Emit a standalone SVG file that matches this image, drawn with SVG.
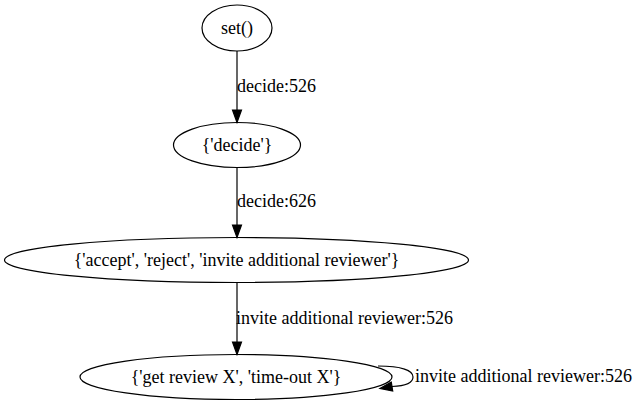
<svg xmlns="http://www.w3.org/2000/svg" width="636" height="407" viewBox="0 0 636 407">
<style>
.node ellipse{fill:none;stroke:#000;stroke-width:1.2}
text{font-family:"Liberation Serif","Times New Roman",serif;font-size:18px;fill:#000}
.node text{text-anchor:middle}
.edge path,.edge line{fill:none;stroke:#000;stroke-width:1.2}
.edge polygon{fill:#000;stroke:#000;stroke-width:1.2}
</style>
<rect width="636" height="407" fill="#fff"/>
<g id="n_set" class="node">
<ellipse cx="237" cy="28" rx="35" ry="23"/>
<text x="237" y="34">set()</text>
</g>
<g id="n_decide" class="node">
<ellipse cx="237" cy="145" rx="63.5" ry="22.5"/>
<text x="237" y="151">{'decide'}</text>
</g>
<g id="n_accept" class="node">
<ellipse cx="236.5" cy="260" rx="232" ry="22.5"/>
<text x="236.5" y="266">{'accept', 'reject', 'invite additional reviewer'}</text>
</g>
<g id="n_review" class="node">
<ellipse cx="236" cy="377" rx="156" ry="22.5"/>
<text x="236" y="383">{'get review X', 'time-out X'}</text>
</g>
<g id="edges" class="edge">
<line x1="237" y1="51" x2="237" y2="110"/>
<polygon points="232.5,110 237,122.5 241.5,110"/>
<text x="237" y="92">decide:526</text>
<line x1="237" y1="167.5" x2="237" y2="225"/>
<polygon points="232.5,225 237,237.5 241.5,225"/>
<text x="237" y="207">decide:626</text>
<line x1="237" y1="282.5" x2="237" y2="342"/>
<polygon points="232.5,342 237,354.5 241.5,342"/>
<text x="236" y="324">invite additional reviewer:526</text>
<path d="M378,366 C400,366 413,370 413,377 C413,383 405,386 392,386.5"/>
<polygon points="391.3,382.1 380,388.5 392.7,390.9"/>
<text x="415" y="382">invite additional reviewer:526</text>
</g>
</svg>
